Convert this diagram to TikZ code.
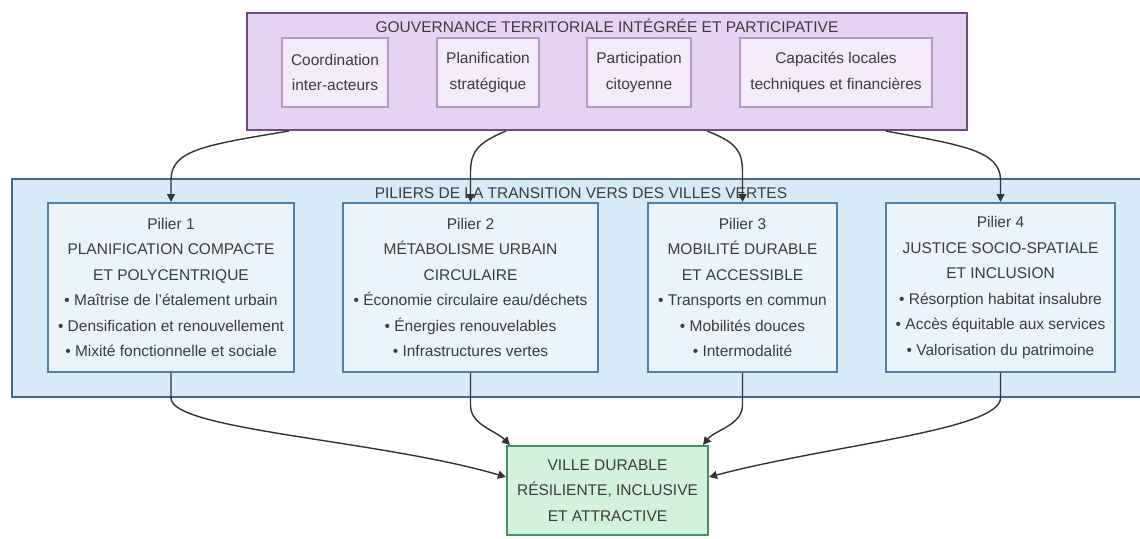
\documentclass[tikz,border=0pt]{standalone}
\usepackage{fontspec}
\setmainfont{Liberation Sans}
\usetikzlibrary{arrows.meta}
\definecolor{govfill}{HTML}{E8D2F3}
\definecolor{govdraw}{HTML}{6E4A7E}
\definecolor{subfill}{HTML}{F5EAF9}
\definecolor{subdraw}{HTML}{B59BC2}
\definecolor{contfill}{HTML}{D6EAF8}
\definecolor{contdraw}{HTML}{46698A}
\definecolor{pilfill}{HTML}{EBF3FB}
\definecolor{pildraw}{HTML}{4F81A8}
\definecolor{outfill}{HTML}{D3F2DD}
\definecolor{outdraw}{HTML}{3E9460}
\definecolor{txt}{HTML}{3C3C3C}
\definecolor{link}{HTML}{333333}
\begin{document}
\begin{tikzpicture}[x=1pt,y=-1pt,
  every node/.style={text=txt,font=\fontsize{15.5}{25.5}\selectfont,align=center,inner sep=0pt},
  govbox/.style={draw=govdraw,fill=govfill,line width=2pt},
  subbox/.style={draw=subdraw,fill=subfill,line width=1.3pt},
  contbox/.style={draw=contdraw,fill=contfill,line width=2pt},
  pilbox/.style={draw=pildraw,fill=pilfill,line width=2pt},
  outbox/.style={draw=outdraw,fill=outfill,line width=2pt},
  conn/.style={draw=link,line width=1.4pt,-{Triangle[length=8pt,width=8pt]}}]
\useasboundingbox (0,0) rectangle (1140,538);
\clip (0,0) rectangle (1140,538);
% governance
\node[govbox,minimum width=720pt,minimum height=117pt] (gov) at (607,71.5) {};
\node (govtitle) at (607,26) {GOUVERNANCE TERRITORIALE INTÉGRÉE ET PARTICIPATIVE};
\node[subbox,minimum width=106pt,minimum height=69pt] (c1) at (335,72.5) {Coordination\\inter-acteurs};
\node[subbox,minimum width=102pt,minimum height=69pt] (c2) at (488,72.5) {Planification\\stratégique};
\node[subbox,minimum width=104pt,minimum height=69pt] (c3) at (639,72.5) {Participation\\citoyenne};
\node[subbox,minimum width=192pt,minimum height=69pt] (c4) at (836,72.5) {Capacités locales\\techniques et financières};
% pillars container
\node[contbox,minimum width=1138pt,minimum height=218pt] (cont) at (581,288) {};
\node (conttitle) at (581,193) {PILIERS DE LA TRANSITION VERS DES VILLES VERTES};
\node[pilbox,minimum width=246pt,minimum height=169pt] (p1) at (171,287.5) {Pilier 1\\PLANIFICATION COMPACTE\\ET POLYCENTRIQUE\\• Maîtrise de l'étalement urbain\\• Densification et renouvellement\\• Mixité fonctionnelle et sociale};
\node[pilbox,minimum width=255pt,minimum height=169pt] (p2) at (470.5,287.5) {Pilier 2\\MÉTABOLISME URBAIN\\CIRCULAIRE\\• Économie circulaire eau/déchets\\• Énergies renouvelables\\• Infrastructures vertes};
\node[pilbox,minimum width=189pt,minimum height=169pt] (p3) at (742.5,287.5) {Pilier 3\\MOBILITÉ DURABLE\\ET ACCESSIBLE\\• Transports en commun\\• Mobilités douces\\• Intermodalité};
\node[pilbox,minimum width=229pt,minimum height=169pt] (p4) at (1000.5,287.5) {Pilier 4\\JUSTICE SOCIO-SPATIALE\\ET INCLUSION\\• Résorption habitat insalubre\\• Accès équitable aux services\\• Valorisation du patrimoine};
% outcome
\node[outbox,minimum width=201pt,minimum height=89pt] (out) at (607.5,490.5) {VILLE DURABLE\\RÉSILIENTE, INCLUSIVE\\ET ATTRACTIVE};
% top connectors
\draw[conn] ([xshift=43pt]gov.south west) .. controls (205,145) and (171,150) .. (171,180) -- (p1.north);
\draw[conn] ([xshift=260pt]gov.south west) .. controls (480,142) and (470.5,150) .. (470.5,172) -- (p2.north);
\draw[conn] ([xshift=461pt]gov.south west) .. controls (735,142) and (742.5,150) .. (742.5,172) -- (p3.north);
\draw[conn] ([xshift=640pt]gov.south west) .. controls (960,145) and (1000.5,150) .. (1000.5,180) -- (p4.north);
% bottom connectors
\draw[conn] (p1.south) -- (171,398) .. controls (171,430) and (380,440) .. ([yshift=13.5pt]out.west);
\draw[conn] (p2.south) -- (470.5,405) .. controls (470.5,425) and (495,430) .. ([xshift=4pt]out.north west);
\draw[conn] (p3.south) -- (742.5,405) .. controls (742.5,425) and (715,430) .. ([xshift=-6pt]out.north east);
\draw[conn] (p4.south) -- (1000.5,398) .. controls (1000.5,430) and (830,445) .. ([yshift=13.5pt]out.east);
\end{tikzpicture}
\end{document}
